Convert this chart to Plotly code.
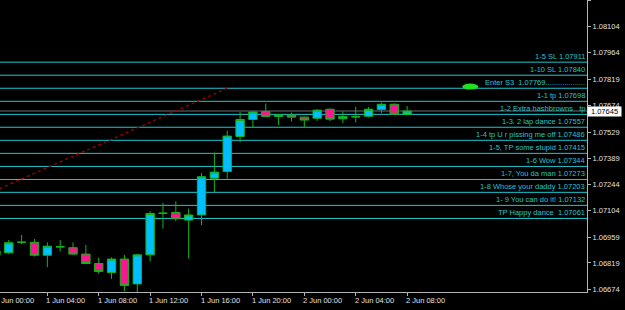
import pandas as pd
import plotly.graph_objects as go

# ---------------- data ----------------
times = pd.date_range("2023-06-01 00:00", periods=33, freq="h")
opens = [1.06863, 1.06874, 1.06931, 1.06931, 1.06861, 1.06906, 1.06902, 1.06867, 1.06816, 1.06767,
         1.06840, 1.06705, 1.06863, 1.07090, 1.07093, 1.07052, 1.07080, 1.07280, 1.07316, 1.07507,
         1.07599, 1.07642, 1.07616, 1.07623, 1.07612, 1.07606, 1.07655, 1.07603, 1.07613, 1.07617,
         1.07653, 1.07682, 1.07626]
highs = [1.06895, 1.06944, 1.06971, 1.06949, 1.06931, 1.06944, 1.06931, 1.06917, 1.06848, 1.06850,
         1.06863, 1.06868, 1.07100, 1.07146, 1.07154, 1.07115, 1.07309, 1.07419, 1.07538, 1.07640,
         1.07643, 1.07686, 1.07628, 1.07637, 1.07615, 1.07655, 1.07658, 1.07642, 1.07669, 1.07667,
         1.07691, 1.07687, 1.07673]
lows = [1.06857, 1.06867, 1.06922, 1.06854, 1.06796, 1.06881, 1.06863, 1.06813, 1.06759, 1.06732,
        1.06665, 1.06661, 1.06827, 1.07006, 1.07046, 1.06843, 1.07025, 1.07205, 1.07277, 1.07475,
        1.07557, 1.07613, 1.07569, 1.07588, 1.07556, 1.07592, 1.07590, 1.07579, 1.07583, 1.07610,
        1.07633, 1.07623, 1.07623]
closes = [1.06884, 1.06929, 1.06932, 1.06861, 1.06910, 1.06907, 1.06867, 1.06816, 1.06773, 1.06840,
          1.06697, 1.06863, 1.07088, 1.07089, 1.07059, 1.07080, 1.07288, 1.07313, 1.07509, 1.07599,
          1.07640, 1.07616, 1.07623, 1.07612, 1.07596, 1.07650, 1.07601, 1.07615, 1.07614, 1.07655,
          1.07682, 1.07628, 1.07645]

level_prices = [1.07911, 1.07840, 1.07769, 1.07698, 1.07627, 1.07557, 1.07486,
                1.07415, 1.07344, 1.07273, 1.07203, 1.07132, 1.07061]
level_labels = ["1-5 SL 1.07911", "1-10 SL 1.07840",
                "Enter S3  1.07769...................", "1-1 tp 1.07698",
                "1-2 Extra hashbrowns   tp", "1-3. 2 lap dance 1.07557",
                "1-4 tp U r pissing me off 1.07486", "1-5, TP some stupid 1.07415",
                "1-6 Wow 1.07344", "1-7, You da man 1.07273",
                "1-8 Whose your daddy 1.07203", "1- 9 You can do it! 1.07132",
                "TP Happy dance  1.07061"]

bid_price = 1.07645
entry_time = "2023-06-02 12:55"
entry_price = 1.07778
trend_times = ["2023-05-31 20:00", "2023-06-01 18:00"]
trend_prices = [1.07091, 1.07769]

y_ticks = [1.06674, 1.06819, 1.06959, 1.07104, 1.07244, 1.07389, 1.07529,
           1.07674, 1.07819, 1.07964, 1.08104, 1.08249]
x_tick_times = ["2023-06-01 00:00", "2023-06-01 04:00", "2023-06-01 08:00",
                "2023-06-01 12:00", "2023-06-01 16:00", "2023-06-01 20:00",
                "2023-06-02 00:00", "2023-06-02 04:00", "2023-06-02 08:00"]
x_tick_labels = ["1 Jun 00:00", "1 Jun 04:00", "1 Jun 08:00", "1 Jun 12:00",
                 "1 Jun 16:00", "1 Jun 20:00", "2 Jun 00:00", "2 Jun 04:00",
                 "2 Jun 08:00"]
x_range = ["2023-06-01 00:19", "2023-06-02 22:00"]
y_range = [1.06661, 1.08249]

# ---------------- style ----------------
FONT = "Liberation Sans, Arial, sans-serif"
FS = 7.5
LEVEL_COLOR = "#1ec8d2"
LABEL_COLOR = "#25c3cc"
AXIS_COLOR = "#b4b4b4"
TEXT_COLOR = "#e0e0e0"
WICK = "#12b812"

fig = go.Figure()
fig.add_trace(go.Candlestick(
    x=times, open=opens, high=highs, low=lows, close=closes,
    increasing=dict(line=dict(color=WICK, width=1), fillcolor="#00bfff"),
    decreasing=dict(line=dict(color=WICK, width=1), fillcolor="#ff1493"),
    whiskerwidth=0, showlegend=False, hoverinfo="skip",
))

shapes = []
for p in level_prices:
    shapes.append(dict(type="line", xref="paper", x0=0, x1=1, yref="y", y0=p, y1=p,
                       line=dict(color=LEVEL_COLOR, width=1), layer="below"))
shapes.append(dict(type="line", xref="paper", x0=0, x1=1, yref="y", y0=bid_price, y1=bid_price,
                   line=dict(color="#4a4a4a", width=1.6), layer="below"))
shapes.append(dict(type="line", xref="x", yref="y", x0=trend_times[0], x1=trend_times[1],
                   y0=trend_prices[0], y1=trend_prices[1],
                   line=dict(color="#a00000", width=1.3, dash="dot"), layer="below"))
shapes.append(dict(type="circle", xref="x", yref="y", xsizemode="pixel", ysizemode="pixel",
                   xanchor=entry_time, yanchor=entry_price, x0=-8, x1=8, y0=-3, y1=3,
                   fillcolor="#22e022", line=dict(width=0)))

annotations = []
for p, t in zip(level_prices, level_labels):
    annotations.append(dict(x=1, xref="paper", y=p, yref="y", xanchor="right", yanchor="bottom",
                            text=t, showarrow=False, borderpad=0, xshift=-1,
                            font=dict(family=FONT, size=FS, color=LABEL_COLOR)))
annotations.append(dict(x=1, xref="paper", y=bid_price, yref="y", xanchor="left", yanchor="middle",
                        text=str(bid_price), showarrow=False, bgcolor="white", borderpad=0,
                        width=33, height=9, xshift=0,
                        font=dict(family=FONT, size=FS, color="black")))

r0 = pd.Timestamp(x_range[0])
r1 = pd.Timestamp(x_range[1])
for t, lab in zip(x_tick_times, x_tick_labels):
    frac = (pd.Timestamp(t) - r0) / (r1 - r0)
    annotations.append(dict(x=frac, xref="paper", y=0, yref="paper", xanchor="left",
                            yanchor="middle", yshift=-8, xshift=-2, text=lab, showarrow=False,
                            borderpad=0, font=dict(family=FONT, size=FS, color=TEXT_COLOR)))

fig.update_layout(
    width=625, height=310,
    margin=dict(l=0, r=38, t=0, b=18),
    paper_bgcolor="black", plot_bgcolor="black",
    boxgap=0.35, boxgroupgap=0,
    shapes=shapes, annotations=annotations,
    showlegend=False,
    font=dict(family=FONT, size=FS, color=TEXT_COLOR),
    xaxis=dict(type="date", range=x_range, rangeslider=dict(visible=False),
               showgrid=False, zeroline=False, showline=True, linecolor=AXIS_COLOR, linewidth=1,
               ticks="outside", ticklen=3, tickcolor=AXIS_COLOR, tickvals=x_tick_times,
               showticklabels=False),
    yaxis=dict(side="right", range=y_range, showgrid=False, zeroline=False,
               showline=True, linecolor=AXIS_COLOR, linewidth=1,
               ticks="outside", ticklen=3, tickcolor=AXIS_COLOR,
               tickvals=y_ticks, tickformat=".5f",
               tickfont=dict(family=FONT, size=FS, color=TEXT_COLOR)),
)

fig.write_html("out.html")
